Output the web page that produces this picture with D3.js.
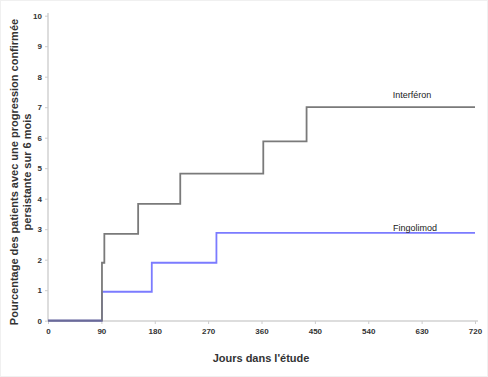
<!DOCTYPE html>
<html><head><meta charset="utf-8">
<script src="https://cdn.jsdelivr.net/npm/d3@7/dist/d3.min.js"></script>
<style>body{margin:0;background:#fff}svg{display:block}text{font-family:"Liberation Sans",Arial,sans-serif}</style>
</head><body><svg width="488" height="377"></svg>
<script>
const xTicks = [0, 90, 180, 270, 360, 450, 540, 630, 720];
const yTicks = [0, 1, 2, 3, 4, 5, 6, 7, 8, 9, 10];
const interferonDays = [0, 91, 95, 152, 223, 363, 436, 720];
const interferonVals = [0, 1.9, 2.85, 3.83, 4.82, 5.88, 7.0, 7.0];
const fingolimodDays = [0, 91, 175, 284, 720];
const fingolimodVals = [0, 0.95, 1.9, 2.88, 2.88];
const seriesNames = ["Interféron", "Fingolimod"];

const svg = d3.select("svg");
svg.append("rect").attr("x",0.5).attr("y",0.5).attr("width",487).attr("height",376)
  .attr("fill","none").attr("stroke","#f0f0f0");
const x = d3.scaleLinear().domain([0,720]).range([48,475]);
const y = d3.scaleLinear().domain([0,10]).range([320.7,15.7]);

// axes
const xAxis = svg.append("g").attr("transform","translate(0,321)")
  .call(d3.axisBottom(x).tickValues(xTicks).tickSize(3).tickPadding(4).tickSizeOuter(0));
xAxis.select(".domain").attr("d","M48,0H478").attr("stroke","#ddd").attr("stroke-width",2);
const yAxis = svg.append("g").attr("transform","translate(48,0)")
  .call(d3.axisLeft(y).tickValues(yTicks).tickSize(3).tickPadding(3).tickSizeOuter(0));
yAxis.select(".domain").attr("d","M0,13V321").attr("stroke","#ddd").attr("stroke-width",2);
svg.selectAll(".tick line").attr("stroke","#ccc");
svg.selectAll(".tick text").attr("fill","#333").style("font-size","8px").style("font-weight","bold");

const line = d3.line().x(d=>x(d[0])).y(d=>y(d[1])).curve(d3.curveStepAfter);
svg.append("path").datum(fingolimodDays.map((d,i)=>[d,fingolimodVals[i]]))
  .attr("d",line).attr("fill","none").attr("stroke","#7b7bff").attr("stroke-width",1.8);
svg.append("path").datum(interferonDays.map((d,i)=>[d,interferonVals[i]]))
  .attr("d",line).attr("fill","none").attr("stroke","#7a7a7a").attr("stroke-width",1.8);
// overlap at zero: dark blend
svg.append("path").datum([[0,0],[91,0]]).attr("d",line).attr("fill","none")
  .attr("stroke","#6a6a9a").attr("stroke-width",1.8);

svg.append("text").attr("x",412).attr("y",98).attr("text-anchor","middle")
  .style("font-size","9px").attr("fill","#222").text(seriesNames[0]);
svg.append("text").attr("x",415).attr("y",231).attr("text-anchor","middle")
  .style("font-size","9px").attr("fill","#222").text(seriesNames[1]);

svg.append("text").attr("x",261).attr("y",362).attr("text-anchor","middle")
  .style("font-size","11px").style("font-weight","bold").attr("fill","#333").text("Jours dans l'étude");
const yt = svg.append("text").attr("transform","translate(18,172) rotate(-90)")
  .attr("text-anchor","middle").style("font-size","11px").style("font-weight","bold").attr("fill","#333");
yt.append("tspan").attr("x",0).attr("dy",0).text("Pourcentage des patients avec une progression confirmée");
yt.append("tspan").attr("x",0).attr("dy",13).text("persistante sur 6 mois");
</script></body></html>
